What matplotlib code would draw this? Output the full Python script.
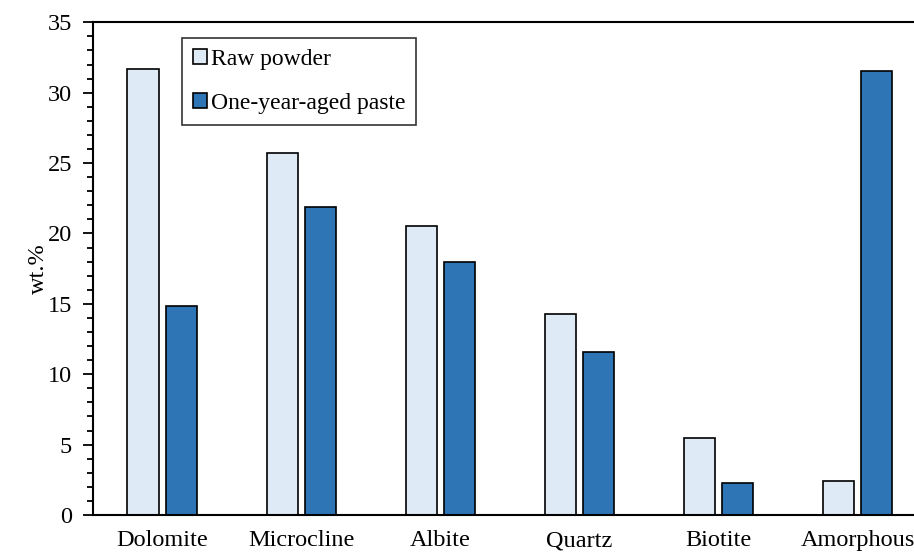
import matplotlib.pyplot as plt
from matplotlib.ticker import MultipleLocator
import numpy as np

plt.rcParams['font.family'] = ['Liberation Serif', 'DejaVu Serif']

minerals = ['Dolomite', 'Microcline', 'Albite', 'Quartz', 'Biotite', 'Amorphous']
raw_powder = [31.7, 25.7, 20.5, 14.3, 5.45, 2.4]
aged_paste = [14.85, 21.85, 17.95, 11.6, 2.25, 31.55]

fig = plt.figure(figsize=(9.14, 5.53), dpi=100)
ax = fig.add_axes([0.1017, 0.0687, 0.9125, 0.891])

x = np.arange(len(minerals))
w = 0.225
ax.bar(x - 0.139, raw_powder, w, color='#DEEAF6', edgecolor='black', linewidth=1.2, label='Raw powder')
ax.bar(x + 0.139, aged_paste, w, color='#2E75B6', edgecolor='black', linewidth=1.2, label='One-year-aged paste')

ax.set_xlim(-0.5, len(minerals) - 0.5)
ax.set_ylim(0, 35)
ax.set_xticks(x)
ax.set_xticklabels(minerals, fontsize=17.5)
ax.tick_params(axis='x', length=0, pad=11)
ax.yaxis.set_major_locator(MultipleLocator(5))
ax.yaxis.set_minor_locator(MultipleLocator(1))
ax.tick_params(axis='y', which='major', length=7, width=1.3, labelsize=17.5, pad=8)
ax.tick_params(axis='y', which='minor', length=4.5, width=1.3)
ax.set_ylabel('wt.%', fontsize=17.5)
ax.yaxis.set_label_coords(-0.053, 0.5)

for side in ['left', 'bottom', 'top']:
    ax.spines[side].set_linewidth(1.5)
ax.spines['right'].set_visible(False)

leg = ax.legend(loc='upper left', bbox_to_anchor=(0.107, 0.968), fontsize=17, frameon=True,
                fancybox=False, edgecolor='black', handlelength=0.6, handleheight=0.6,
                handletextpad=0.15, labelspacing=1.0, borderpad=0.45, borderaxespad=0)
leg.get_frame().set_linewidth(1.2)

fig.savefig('out.png', dpi=100)
